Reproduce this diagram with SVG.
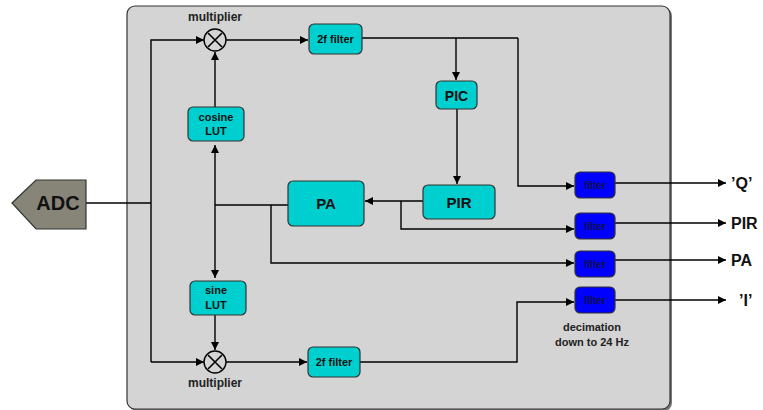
<svg xmlns="http://www.w3.org/2000/svg" width="763" height="410" viewBox="0 0 763 410">
  <defs>
    <marker id="arr" viewBox="0 0 10 10" refX="10" refY="5" markerWidth="10" markerHeight="8" markerUnits="userSpaceOnUse" orient="auto">
      <path d="M0,0 L10,5 L0,10 z" fill="#000"/>
    </marker>
    <marker id="arrS" viewBox="0 0 10 10" refX="0" refY="5" markerWidth="10" markerHeight="8" markerUnits="userSpaceOnUse" orient="auto">
      <path d="M10,0 L0,5 L10,10 z" fill="#000"/>
    </marker>
  </defs>
  <style>
    text { font-family: "Liberation Sans", Arial, sans-serif; font-weight: bold; fill: #111; text-anchor: middle; }
    .box { fill: #00cfcf; stroke: #333; stroke-width: 1.2; }
    .flt { fill: #0000ff; stroke: #333; stroke-width: 1.2; }
    .flt-t { font-size: 10px; fill: #10104a; }
    .wire { fill: none; stroke: #000; stroke-width: 1.4; }
    .arrow { fill: none; stroke: #000; stroke-width: 1.4; marker-end: url(#arr); }
    .lbl { font-size: 12px; fill: #222; }
    .out { font-size: 16px; text-anchor: start; }
  </style>

  <!-- housing panel -->
  <rect x="129" y="8" width="543" height="403" rx="8" fill="#777"/>
  <rect x="127" y="6" width="543" height="403" rx="8" fill="#d4d4d4" stroke="#333" stroke-width="1.2"/>

  <!-- connectors -->
  <g id="connectors">
    <path class="wire" d="M86,203 H151"/>
    <path class="arrow" d="M151,362 V40 H204"/>
    <path class="arrow" d="M151,362 H204"/>
    <path class="arrow" d="M226,40 H308"/>
    <path class="arrow" d="M226,362 H307"/>
    <path class="arrow" d="M215,107 V52"/>
    <path class="arrow" d="M215,315 V350"/>
    <path class="wire" d="M215,145 V278" marker-start="url(#arrS)" marker-end="url(#arr)"/>
    <path class="wire" d="M215,205 H288"/>
    <path class="arrow" d="M271,205 V263 H574"/>
    <path class="wire" d="M362,38 H518"/>
    <path class="arrow" d="M456,38 V80"/>
    <path class="arrow" d="M457,109 V184"/>
    <path class="arrow" d="M423,201 H365"/>
    <path class="arrow" d="M401,201 V229 H574"/>
    <path class="arrow" d="M518,38 V186 H574"/>
    <path class="arrow" d="M360,362 H517 V302 H574"/>
    <path class="arrow" d="M615,183 H726"/>
    <path class="arrow" d="M615,223 H726"/>
    <path class="arrow" d="M615,260 H726"/>
    <path class="arrow" d="M615,300 H726"/>
  </g>

  <!-- converter input -->
  <g id="adc">
    <polygon points="12,203 36,180 86,180 86,229 36,229" fill="#878578" stroke="#333" stroke-width="1.2"/>
    <text x="58" y="210" style="font-size:20px">ADC</text>
  </g>

  <!-- upper branch -->
  <g id="mult-top">
    <circle cx="215" cy="40" r="11" fill="none" stroke="#000" stroke-width="1.4"/>
    <path d="M208,33 L222,47 M222,33 L208,47" stroke="#000" stroke-width="1.6"/>
    <text class="lbl" x="215" y="21">multiplier</text>
  </g>
  <g id="cos-lut">
    <rect class="box" x="188" y="107" width="56" height="34" rx="5"/>
    <text x="216" y="121" style="font-size:11px">cosine</text>
    <text x="216" y="135" style="font-size:11px">LUT</text>
  </g>
  <g id="filter2f-top">
    <rect class="box" x="309" y="24" width="53" height="30" rx="5"/>
    <text x="335.5" y="43" style="font-size:11px">2f filter</text>
  </g>
  <g id="pic">
    <rect class="box" x="436" y="81" width="41" height="28" rx="5"/>
    <text x="456.5" y="100.5" style="font-size:14px">PIC</text>
  </g>
  <g id="pir">
    <rect class="box" x="423" y="185" width="72" height="34" rx="5"/>
    <text x="459" y="207.5" style="font-size:15px">PIR</text>
  </g>
  <g id="pa">
    <rect class="box" x="288" y="181" width="76" height="45" rx="5"/>
    <text x="326" y="208.5" style="font-size:15px">PA</text>
  </g>

  <!-- lower branch -->
  <g id="sin-lut">
    <rect class="box" x="190" y="281" width="56" height="34" rx="5"/>
    <text x="216" y="294" style="font-size:11px">sine</text>
    <text x="216" y="309" style="font-size:11px">LUT</text>
  </g>
  <g id="mult-bottom">
    <circle cx="215" cy="362" r="11" fill="none" stroke="#000" stroke-width="1.4"/>
    <path d="M208,355 L222,369 M222,355 L208,369" stroke="#000" stroke-width="1.6"/>
    <text class="lbl" x="215" y="387">multiplier</text>
  </g>
  <g id="filter2f-bottom">
    <rect class="box" x="308" y="347" width="52" height="30" rx="5"/>
    <text x="334" y="366" style="font-size:11px">2f filter</text>
  </g>

  <!-- decimation filters -->
  <g id="filter-q">
    <rect class="flt" x="575" y="172" width="40" height="26" rx="5"/>
    <text class="flt-t" x="595" y="189">filter</text>
  </g>
  <g id="filter-pir">
    <rect class="flt" x="575" y="213" width="40" height="26" rx="5"/>
    <text class="flt-t" x="595" y="230">filter</text>
  </g>
  <g id="filter-pa">
    <rect class="flt" x="575" y="251" width="40" height="26" rx="5"/>
    <text class="flt-t" x="595" y="268">filter</text>
  </g>
  <g id="filter-i">
    <rect class="flt" x="575" y="287" width="40" height="26" rx="5"/>
    <text class="flt-t" x="595" y="304">filter</text>
    <text class="lbl" x="592" y="331" style="font-size:11px">decimation</text>
    <text class="lbl" x="592" y="346" style="font-size:11px">down to 24 Hz</text>
  </g>

  <!-- outputs -->
  <g id="outputs">
    <text class="out" x="731" y="189">’Q’</text>
    <text class="out" x="731" y="229">PIR</text>
    <text class="out" x="731" y="266">PA</text>
    <text class="out" x="739" y="306">’I’</text>
  </g>
</svg>
